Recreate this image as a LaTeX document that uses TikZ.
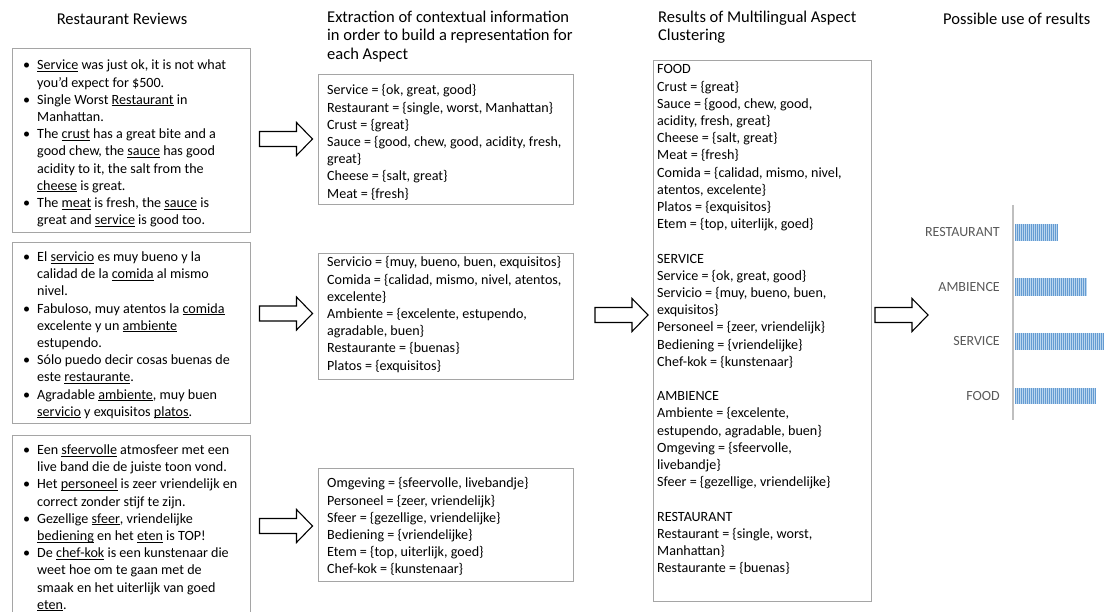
\documentclass[tikz,border=0pt]{standalone}
\usepackage{fontspec}
\setmainfont{Carlito}
\definecolor{boxgray}{RGB}{165,165,165}
\definecolor{axisgray}{RGB}{191,191,191}
\definecolor{labelgray}{RGB}{89,89,89}
\definecolor{barfill}{RGB}{185,213,238}
\definecolor{barline}{RGB}{100,155,210}
\newsavebox\uwbox
\newcommand{\uw}[1]{\sbox\uwbox{#1}\rlap{\rule[-1.8pt]{\wd\uwbox}{0.7pt}}\usebox\uwbox}
\newcommand{\bul}{\llap{\textbullet\hspace{7pt}}}
\begin{document}
\begin{tikzpicture}[x=1pt,y=-1pt,
  panel/.style={draw=boxgray, line width=0.9pt, anchor=north west, inner sep=0pt},
  txt/.style={anchor=north west, inner sep=0pt, align=left, font=\fontsize{14.1}{17.2}\selectfont, execute at begin node=\strut},
  title/.style={anchor=north west, inner sep=0pt, align=left, font=\fontsize{16.5}{18.3}\selectfont, execute at begin node=\strut},
  arrowline/.style={draw=black, fill=white, line width=1.1pt, line join=miter},
  barbase/.style={fill=barfill},
  stripe/.style={draw=barline, line width=0.75pt},
  clabel/.style={anchor=east, text=labelgray, inner sep=0pt, font=\fontsize{14}{16}\selectfont},
  blockarrow/.pic={\draw[arrowline] (0,-7.5) -- (37,-7.5) -- (37,-16.5) -- (53,0) -- (37,16.5) -- (37,7.5) -- (0,7.5) -- cycle;}
]
\useasboundingbox (0,0) rectangle (1104,612);
\clip (0,0) rectangle (1104,612);

% titles
\node[title, anchor=north] (h1) at (122,11) {Restaurant Reviews};
\node[title] (h2) at (327,11) {Extraction of contextual information\\in order to build a representation for\\each Aspect};
\node[title] (h3) at (658,11) {Results of Multilingual Aspect\\Clustering};
\node[title] (h4) at (943,11) {Possible use of results};

% review boxes
\node[panel, minimum width=238pt, minimum height=184pt] (rev1) at (12,48) {};
\node[panel, minimum width=238pt, minimum height=181pt] (rev2) at (12,242) {};
\node[panel, minimum width=238pt, minimum height=200pt] (rev3) at (12,435) {};

\node[txt] (t1) at (37,60) {\bul\uw{Service} was just ok, it is not what\\
you'd expect for \$500.\\
\bul Single Worst \uw{Restaurant} in\\
Manhattan.\\
\bul The \uw{crust} has a great bite and a\\
good chew, the \uw{sauce} has good\\
acidity to it, the salt from the\\
\uw{cheese} is great.\\
\bul The \uw{meat} is fresh, the \uw{sauce} is\\
great and \uw{service} is good too.};

\node[txt] (t2) at (37,251.5) {\bul El \uw{servicio} es muy bueno y la\\
calidad de la \uw{comida} al mismo\\
nivel.\\
\bul Fabuloso, muy atentos la \uw{comida}\\
excelente y un \uw{ambiente}\\
estupendo.\\
\bul Sólo puedo decir cosas buenas de\\
este \uw{restaurante}.\\
\bul Agradable \uw{ambiente}, muy buen\\
\uw{servicio} y exquisitos \uw{platos}.};

\node[txt] (t3) at (37,444.5) {\bul Een \uw{sfeervolle} atmosfeer met een\\
live band die de juiste toon vond.\\
\bul Het \uw{personeel} is zeer vriendelijk en\\
correct zonder stijf te zijn.\\
\bul Gezellige \uw{sfeer}, vriendelijke\\
\uw{bediening} en het \uw{eten} is TOP!\\
\bul De \uw{chef-kok} is een kunstenaar die\\
weet hoe om te gaan met de\\
smaak en het uiterlijk van goed\\
\uw{eten}.};

% extraction boxes
\node[panel, minimum width=255pt, minimum height=130pt] (ext1) at (318,74) {};
\node[panel, minimum width=255pt, minimum height=126pt] (ext2) at (318,253) {};
\node[panel, minimum width=255pt, minimum height=113pt] (ext3) at (318,468) {};

\node[txt] (tA) at (327,84.5) {Service = \{ok, great, good\}\\
Restaurant = \{single, worst, Manhattan\}\\
Crust = \{great\}\\
Sauce = \{good, chew, good, acidity, fresh,\\
great\}\\
Cheese = \{salt, great\}\\
Meat = \{fresh\}};

\node[txt] (tB) at (327,256.5) {Servicio = \{muy, bueno, buen, exquisitos\}\\
Comida = \{calidad, mismo, nivel, atentos,\\
excelente\}\\
Ambiente = \{excelente, estupendo,\\
agradable, buen\}\\
Restaurante = \{buenas\}\\
Platos = \{exquisitos\}};

\node[txt] (tC) at (327,477.5) {Omgeving = \{sfeervolle, livebandje\}\\
Personeel = \{zeer, vriendelijk\}\\
Sfeer = \{gezellige, vriendelijke\}\\
Bediening = \{vriendelijke\}\\
Etem = \{top, uiterlijk, goed\}\\
Chef-kok = \{kunstenaar\}};

% results box
\node[panel, minimum width=218pt, minimum height=541pt] (res) at (653,60) {};
\node[txt] (tR) at (657,64.5) {FOOD\\
Crust = \{great\}\\
Sauce = \{good, chew, good,\\
acidity, fresh, great\}\\
Cheese = \{salt, great\}\\
Meat = \{fresh\}\\
Comida = \{calidad, mismo, nivel,\\
atentos, excelente\}\\
Platos = \{exquisitos\}\\
Etem = \{top, uiterlijk, goed\}\\[17.2pt]
SERVICE\\
Service = \{ok, great, good\}\\
Servicio = \{muy, bueno, buen,\\
exquisitos\}\\
Personeel = \{zeer, vriendelijk\}\\
Bediening = \{vriendelijke\}\\
Chef-kok = \{kunstenaar\}\\[17.2pt]
AMBIENCE\\
Ambiente = \{excelente,\\
estupendo, agradable, buen\}\\
Omgeving = \{sfeervolle,\\
livebandje\}\\
Sfeer = \{gezellige, vriendelijke\}\\[17.2pt]
RESTAURANT\\
Restaurant = \{single, worst,\\
Manhattan\}\\
Restaurante = \{buenas\}};

% block arrows
\pic at (259.5,139) {blockarrow};
\pic at (259.5,313.5) {blockarrow};
\pic at (259.5,526) {blockarrow};
\pic at (595,315) {blockarrow};
\pic at (875,315) {blockarrow};

% chart
\coordinate (axtop) at (1013,205);
\coordinate (axbot) at (1013,420);
\draw[axisgray, line width=1.3pt] (axtop) -- (axbot);
\foreach \xe/\ya/\yb in {1058/224/241, 1087/278/296, 1106/333/350, 1096/388/404} {
  \fill[barbase] (1014.5,\ya) rectangle (\xe,\yb);
  \foreach \xx in {1015.5,1017.5,...,\xe} \draw[stripe] (\xx,\ya) -- (\xx,\yb);
}
\node[clabel] (lr) at (1000,232.5) {RESTAURANT};
\node[clabel] (la) at (1000,287) {AMBIENCE};
\node[clabel] (ls) at (1000,341.5) {SERVICE};
\node[clabel] (lf) at (1000,396) {FOOD};
\end{tikzpicture}
\end{document}
